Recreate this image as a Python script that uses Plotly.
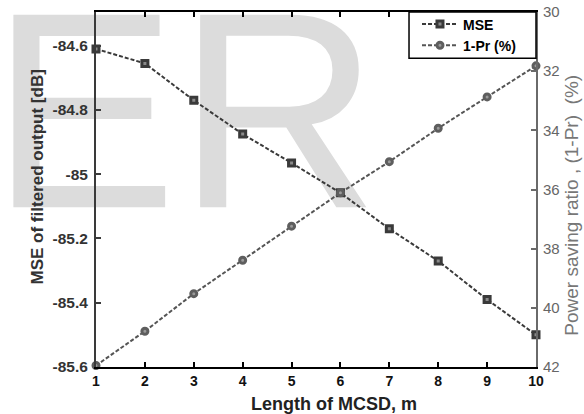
import plotly.graph_objects as go

# ---- data ----
m_len = [1, 2, 3, 4, 5, 6, 7, 8, 9, 10]
mse_db = [-84.61, -84.655, -84.77, -84.875, -84.965, -85.058, -85.17, -85.27, -85.39, -85.50]
one_minus_pr = [41.95, 40.79, 39.52, 38.39, 37.24, 36.11, 35.06, 33.93, 32.87, 31.82]

x_ticks = [1, 2, 3, 4, 5, 6, 7, 8, 9, 10]
y_ticks = [-85.6, -85.4, -85.2, -85.0, -84.8, -84.6]
y_ticktext = ["-85.6", "-85.4", "-85.2", "-85", "-84.8", "-84.6"]
y2_ticks = [30, 32, 34, 36, 38, 40, 42]
y2_ticktext = ["30", "32", "34", "36", "38", "40", "42"]

watermark_text = "ER"
watermark_pos = (2.818, -85.321)   # centre / bottom anchor of the background watermark

FONT = "Liberation Sans, Arial, sans-serif"

fig = go.Figure()

# background watermark (drawn first, under data and axes)
fig.add_trace(go.Scatter(
    x=[watermark_pos[0]], y=[watermark_pos[1]], mode="text",
    text=[watermark_text], textposition="top center",
    textfont=dict(family=FONT, size=280, color="#dcdcdc"),
    cliponaxis=False, showlegend=False, hoverinfo="skip",
))

fig.add_trace(go.Scatter(
    x=m_len, y=mse_db, name="MSE", mode="lines+markers",
    line=dict(color="#3a3a3a", width=2, dash="4px,2px"),
    marker=dict(symbol="square", size=6, color="#8a8a8a",
                line=dict(color="#3a3a3a", width=3)),
    cliponaxis=False,
))
fig.add_trace(go.Scatter(
    x=m_len, y=one_minus_pr, name="1-Pr (%)", mode="lines+markers", yaxis="y2",
    line=dict(color="#555555", width=2, dash="4px,2px"),
    marker=dict(symbol="circle", size=6, color="#9a9a9a",
                line=dict(color="#5e5e5e", width=3)),
    cliponaxis=False,
))

fig.update_layout(
    width=584, height=414, autosize=False,
    margin=dict(l=96, r=48, t=12, b=47, pad=0, autoexpand=False),
    paper_bgcolor="white", plot_bgcolor="rgba(0,0,0,0)",
    font=dict(family=FONT, color="#222"),
    xaxis=dict(
        range=[1, 10], tickvals=x_ticks, ticks="inside", ticklen=5, tickwidth=1.5,
        tickcolor="black", showline=True, linecolor="black", linewidth=2,
        mirror="ticks", showgrid=False, zeroline=False, ticklabelstandoff=0,
        automargin=False,
        tickfont=dict(family=FONT, size=14, color="#111", weight="bold"),
    ),
    yaxis=dict(
        range=[-85.6, -84.495], tickvals=y_ticks, ticktext=y_ticktext,
        ticks="inside", ticklen=5, tickwidth=1.5, tickcolor="#3a3a3a",
        showline=True, linecolor="#3a3a3a", linewidth=2, showgrid=False,
        zeroline=False, ticklabelstandoff=3, automargin=False,
        tickfont=dict(family=FONT, size=15.5, color="#333", weight="bold"),
    ),
    yaxis2=dict(
        overlaying="y", side="right", range=[42, 30], tickvals=y2_ticks,
        ticktext=y2_ticktext, ticks="inside", ticklen=5, tickwidth=1.5,
        tickcolor="#6a6a6a", showline=True, linecolor="#6a6a6a", linewidth=2,
        showgrid=False, zeroline=False, ticklabelstandoff=2, automargin=False,
        tickfont=dict(family=FONT, size=15, color="#666"),
    ),
    legend=dict(
        x=0.7295, y=1.010, xanchor="left", yanchor="top",
        bgcolor="rgba(0,0,0,0)", borderwidth=0,
        font=dict(family=FONT, size=14, color="black", weight="bold"),
        itemwidth=36, tracegroupgap=0,
    ),
    showlegend=True,
    shapes=[
        dict(type="rect", xref="paper", yref="paper", x0=0.7114, x1=1.0,
             y0=0.870, y1=1.0, fillcolor="white",
             line=dict(color="black", width=1.5), layer="above"),
    ],
    annotations=[
        dict(text="Length of MCSD, m", xref="paper", yref="paper",
             x=0.54, y=-0.105, xanchor="center", yanchor="middle", showarrow=False,
             font=dict(family=FONT, size=18, color="#222", weight="bold")),
        dict(text="MSE of filtered output [dB]", xref="paper", yref="paper",
             x=-0.134, y=0.534, xanchor="center", yanchor="middle", showarrow=False,
             textangle=-90,
             font=dict(family=FONT, size=17, color="#333", weight="bold")),
        dict(text="Power saving ratio , (1-Pr)\u00a0 (%)", xref="paper", yref="paper",
             x=1.08, y=0.455, xanchor="center", yanchor="middle", showarrow=False,
             textangle=-90,
             font=dict(family=FONT, size=19, color="#777")),
    ],
)

fig.write_html(
    "out.html",
    config={"displayModeBar": False},
    post_script="document.body.style.margin='0';document.body.style.padding='0';",
)
